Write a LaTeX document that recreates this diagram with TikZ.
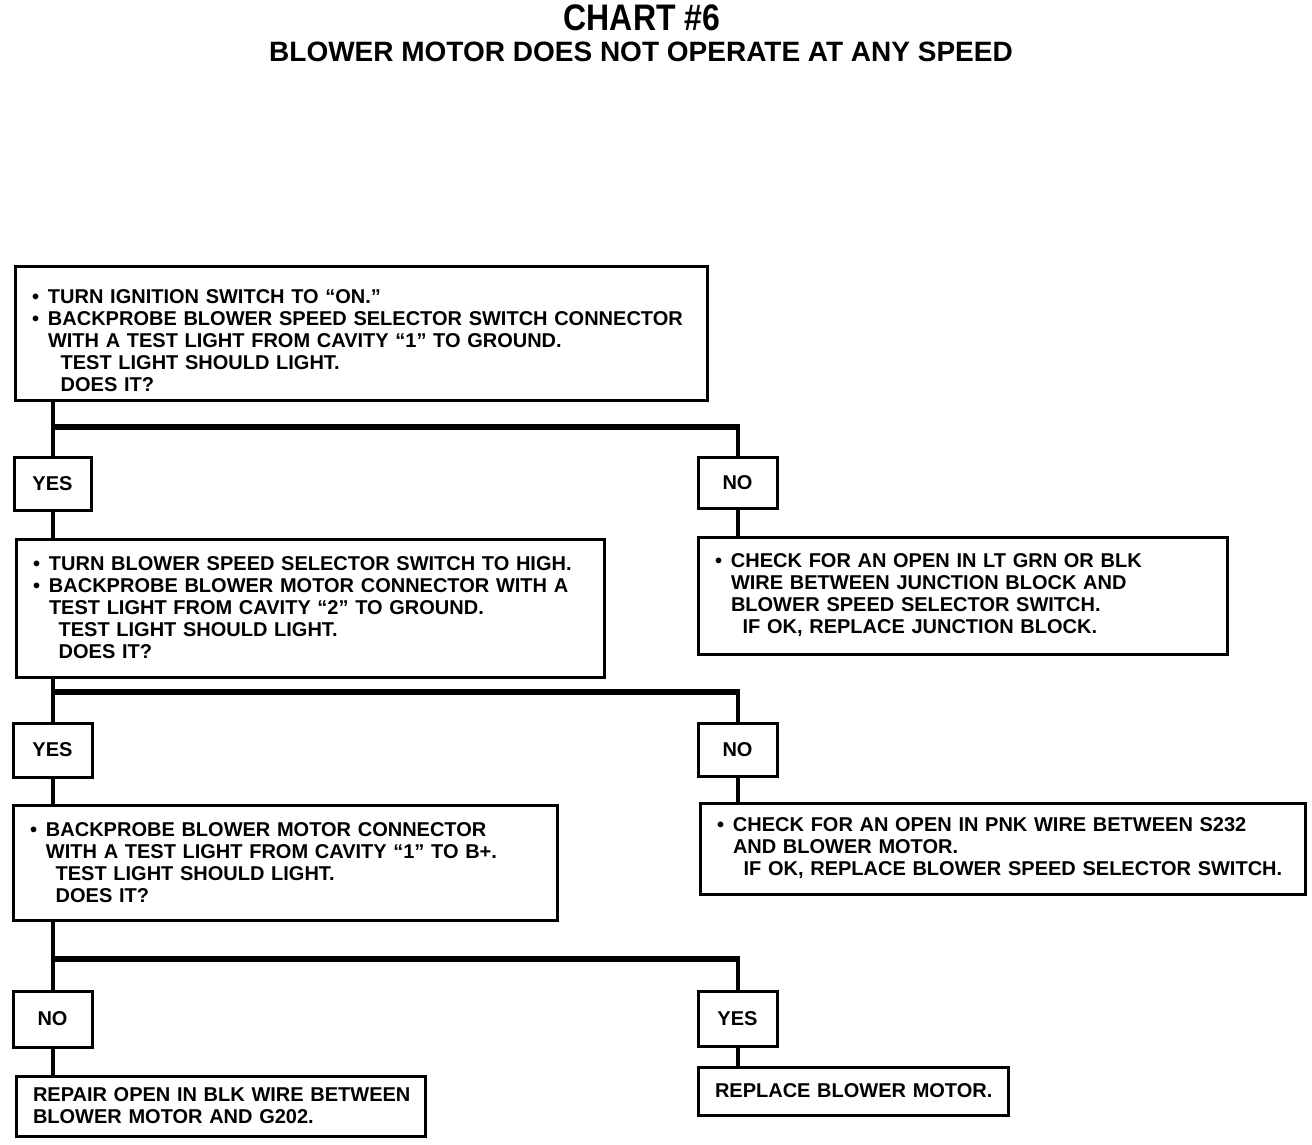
\documentclass[tikz,border=0pt]{standalone}
\usepackage{fontspec}
\setmainfont{Liberation Sans}
\newcommand{\bul}{\makebox[16pt][l]{•}}
\newcommand{\ind}[1][16pt]{\hspace*{#1}}
\tikzset{
	card/.style={draw, line width=3pt, anchor=north west, inner xsep=17pt, inner ysep=0pt, align=left,
		font=\fontsize{20}{22}\selectfont\bfseries},
	tag/.style={draw, line width=3pt, anchor=north west, inner sep=0pt,
		font=\fontsize{20}{22}\selectfont\bfseries},
	wire/.style={line width=4pt},
	bar/.style={line width=6pt},
}
\begin{document}
\begin{tikzpicture}[x=1pt, y=-1pt]
	\useasboundingbox (0,0) rectangle (1312,1144);
	% headings
	\node[anchor=base, font=\fontsize{33}{36}\selectfont\bfseries] (title) at (642,30) {\scalebox{0.97}[1.12]{CHART \#6}};
	\node[anchor=base, font=\fontsize{28}{30}\selectfont\bfseries] (subtitle) at (641,61) {BLOWER MOTOR DOES NOT OPERATE AT ANY SPEED};
	% first check
	\node[card, minimum width=692pt, minimum height=134pt, text width=658pt] (q1) at (13.5,264.5)
		{\rule{0pt}{29pt}\bul TURN IGNITION SWITCH TO “ON.”\\
		\bul BACKPROBE BLOWER SPEED SELECTOR SWITCH CONNECTOR\\
		\ind WITH A TEST LIGHT FROM CAVITY “1” TO GROUND.\\
		\ind[22pt] TEST LIGHT SHOULD LIGHT.\\
		\ind[22pt] DOES IT?};
	\node[tag, minimum width=77pt, minimum height=53pt] (yes1) at (12.5,455.5) {YES};
	\node[tag, minimum width=79pt, minimum height=51pt] (no1) at (696.5,455.5) {NO};
	% second check
	\node[card, minimum width=588pt, minimum height=138pt, text width=554pt] (q2) at (14.5,537.5)
		{\bul TURN BLOWER SPEED SELECTOR SWITCH TO HIGH.\\
		\bul BACKPROBE BLOWER MOTOR CONNECTOR WITH A\\
		\ind TEST LIGHT FROM CAVITY “2” TO GROUND.\\
		\ind[19pt] TEST LIGHT SHOULD LIGHT.\\
		\ind[19pt] DOES IT?};
	\node[card, minimum width=529pt, minimum height=117pt, text width=495pt] (fix1) at (696.5,535.5)
		{\bul CHECK FOR AN OPEN IN LT GRN OR BLK\\
		\ind WIRE BETWEEN JUNCTION BLOCK AND\\
		\ind BLOWER SPEED SELECTOR SWITCH.\\
		\ind[21pt] IF OK, REPLACE JUNCTION BLOCK.};
	\node[tag, minimum width=79pt, minimum height=54pt] (yes2) at (11.5,721.5) {YES};
	\node[tag, minimum width=79pt, minimum height=53pt] (no2) at (696.5,721.5) {NO};
	% third check
	\node[card, minimum width=544pt, minimum height=115pt, text width=510pt] (q3) at (11.5,803.5)
		{\bul BACKPROBE BLOWER MOTOR CONNECTOR\\
		\ind WITH A TEST LIGHT FROM CAVITY “1” TO B+.\\
		\ind[19pt] TEST LIGHT SHOULD LIGHT.\\
		\ind[19pt] DOES IT?};
	\node[card, minimum width=605pt, minimum height=91pt, text width=571pt] (fix2) at (698.5,801.5)
		{\bul CHECK FOR AN OPEN IN PNK WIRE BETWEEN S232\\
		\ind AND BLOWER MOTOR.\\
		\ind[20pt] IF OK, REPLACE BLOWER SPEED SELECTOR SWITCH.};
	\node[tag, minimum width=79pt, minimum height=56pt] (no3) at (11.5,989.5) {NO};
	\node[tag, minimum width=79pt, minimum height=55pt] (yes3) at (696.5,989.5) {YES};
	\node[card, minimum width=409pt, minimum height=60pt, text width=375pt] (fix3) at (14.5,1074.5)
		{\mbox{REPAIR OPEN IN BLK WIRE BETWEEN}\\
		\mbox{BLOWER MOTOR AND G202.}};
	\node[card, minimum width=310pt, minimum height=48pt, text width=276pt] (fix4) at (696.5,1065.5)
		{\mbox{REPLACE BLOWER MOTOR.}};
	% branch points
	\coordinate (s1) at (51,427);
	\coordinate (s2) at (51,692);
	\coordinate (s3) at (51,959);
	% connectors
	\draw[wire] (q1.south -| yes1.north) -- (yes1.north);
	\draw[bar] (s1) -- (s1 -| no1.north);
	\draw[wire] ([yshift=3pt]s1 -| no1.north) -- (no1.north);
	\draw[wire] (yes1.south) -- (yes1.south |- q2.north);
	\draw[wire] (no1.south) -- (no1.south |- fix1.north);
	\draw[wire] (q2.south -| yes2.north) -- (yes2.north);
	\draw[bar] (s2) -- (s2 -| no2.north);
	\draw[wire] ([yshift=3pt]s2 -| no2.north) -- (no2.north);
	\draw[wire] (yes2.south) -- (yes2.south |- q3.north);
	\draw[wire] (no2.south) -- (no2.south |- fix2.north);
	\draw[wire] (q3.south -| no3.north) -- (no3.north);
	\draw[bar] (s3) -- (s3 -| yes3.north);
	\draw[wire] ([yshift=3pt]s3 -| yes3.north) -- (yes3.north);
	\draw[wire] (no3.south) -- (no3.south |- fix3.north);
	\draw[wire] (yes3.south) -- (yes3.south |- fix4.north);
\end{tikzpicture}
\end{document}
